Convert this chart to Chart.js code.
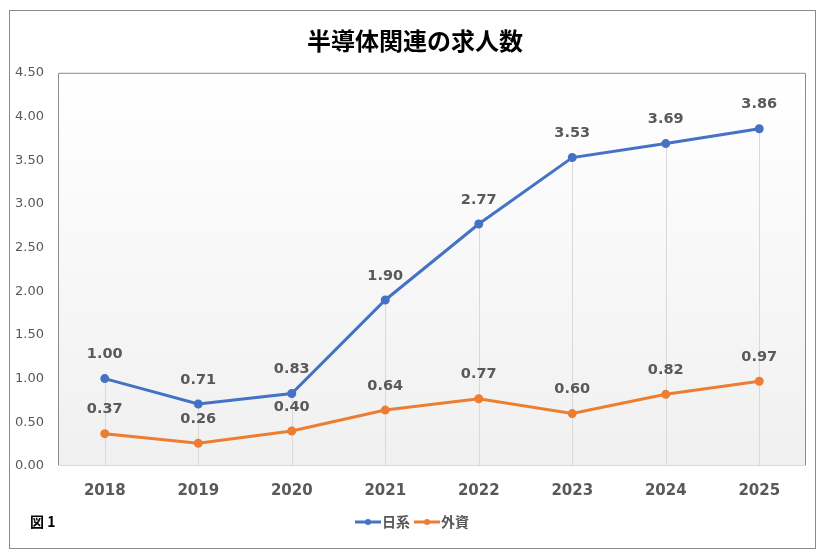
<!DOCTYPE html>
<html lang="ja">
<head>
<meta charset="UTF-8">
<title>半導体関連の求人数</title>
<script src="https://cdn.jsdelivr.net/npm/chart.js"></script>
<style>
    body { margin: 0; background: #fff; }
    #wrap { position: relative; width: 830px; height: 558px; }
</style>
</head>
<body>
<div id="wrap"><canvas id="chart" width="830" height="558"></canvas></div>
<script>
    const years = ['2018', '2019', '2020', '2021', '2022', '2023', '2024', '2025'];
    const nikkei = [1.00, 0.71, 0.83, 1.90, 2.77, 3.53, 3.69, 3.86];
    const gaishi = [0.37, 0.26, 0.40, 0.64, 0.77, 0.60, 0.82, 0.97];
    const yTicks = [0, 0.5, 1, 1.5, 2, 2.5, 3, 3.5, 4, 4.5];

    const BLUE = '#4472C4';
    const ORANGE = '#ED7D31';
    const GREY = '#595959';
    const NUM_FONT = '"DejaVu Sans", Verdana, sans-serif';
    const JP_FONT = '"Noto Sans CJK JP", sans-serif';

    // legend marker: short line with a dot in the middle
    function marker(color) {
        const c = document.createElement('canvas');
        c.width = 28; c.height = 10;
        const g = c.getContext('2d');
        g.strokeStyle = color; g.lineWidth = 3;
        g.beginPath(); g.moveTo(1, 5); g.lineTo(27, 5); g.stroke();
        g.fillStyle = color;
        g.beginPath(); g.arc(14, 5, 3, 0, Math.PI * 2); g.fill();
        return c;
    }

    const frame = {
        id: 'frame',
        beforeDraw(chart) {
            const ctx = chart.ctx;
            const a = chart.chartArea;
            ctx.save();
            ctx.strokeStyle = '#8a8a8a';
            ctx.lineWidth = 1;
            ctx.strokeRect(9.5, 10.5, 806, 538);
            const grad = ctx.createLinearGradient(0, a.top, 0, a.bottom);
            grad.addColorStop(0, '#ffffff');
            grad.addColorStop(1, '#f0f0f0');
            ctx.fillStyle = grad;
            ctx.fillRect(a.left, a.top, a.right - a.left, a.bottom - a.top);
            ctx.strokeStyle = '#8a8a8a';
            ctx.beginPath();
            ctx.moveTo(a.left + 0.5, a.bottom);
            ctx.lineTo(a.left + 0.5, a.top + 0.5);
            ctx.lineTo(a.right - 0.5, a.top + 0.5);
            ctx.lineTo(a.right - 0.5, a.bottom);
            ctx.stroke();
            ctx.strokeStyle = '#d9d9d9';
            ctx.beginPath();
            ctx.moveTo(a.left, a.bottom - 0.5);
            ctx.lineTo(a.right, a.bottom - 0.5);
            ctx.stroke();
            // 図 1
            ctx.fillStyle = '#000';
            ctx.font = 'bold 14px ' + JP_FONT;
            ctx.textBaseline = 'middle';
            ctx.fillText('図 1', 30, 522);
            ctx.restore();
        },
        beforeDatasetsDraw(chart) {
            // drop lines from the highest point down to the axis
            const ctx = chart.ctx;
            const a = chart.chartArea;
            const pts = chart.getDatasetMeta(0).data;
            const pts2 = chart.getDatasetMeta(1).data;
            ctx.save();
            ctx.strokeStyle = '#d9d9d9';
            ctx.lineWidth = 1;
            pts.forEach((p, i) => {
                const top = Math.min(p.y, pts2[i].y);
                const x = Math.round(p.x) + 0.5;
                ctx.beginPath();
                ctx.moveTo(x, top);
                ctx.lineTo(x, a.bottom);
                ctx.stroke();
            });
            ctx.restore();
        },
        afterDatasetsDraw(chart) {
            const ctx = chart.ctx;
            ctx.save();
            ctx.fillStyle = GREY;
            ctx.font = 'bold 14.5px ' + NUM_FONT;
            ctx.textAlign = 'center';
            ctx.textBaseline = 'middle';
            chart.data.datasets.forEach((ds, di) => {
                chart.getDatasetMeta(di).data.forEach((p, i) => {
                    ctx.fillText(ds.data[i].toFixed(2), p.x, p.y - 24);
                });
            });
            ctx.restore();
        }
    };

    new Chart(document.getElementById('chart'), {
        type: 'line',
        data: {
            labels: years,
            datasets: [
                { label: '日系', data: nikkei, borderColor: BLUE, backgroundColor: BLUE,
                  borderWidth: 3, pointRadius: 3, pointHoverRadius: 3, pointStyle: 'circle', tension: 0 },
                { label: '外資', data: gaishi, borderColor: ORANGE, backgroundColor: ORANGE,
                  borderWidth: 3, pointRadius: 3, pointHoverRadius: 3, pointStyle: 'circle', tension: 0 }
            ]
        },
        options: {
            responsive: false,
            animation: false,
            layout: { padding: { left: 0, right: 0, top: 0, bottom: 19 } },
            scales: {
                x: {
                    offset: true,
                    afterFit(s) { s.height = 39; },
                    grid: { display: false, drawTicks: false },
                    border: { display: false },
                    ticks: { color: GREY, padding: 16, font: { family: NUM_FONT, size: 15, weight: 'bold' } }
                },
                y: {
                    min: 0, max: 4.5,
                    afterFit(s) { s.width = 58; },
                    afterBuildTicks(s) { s.ticks = yTicks.map(v => ({ value: v })); },
                    grid: { display: false, drawTicks: false },
                    border: { display: false },
                    ticks: { color: GREY, padding: 14, font: { family: NUM_FONT, size: 13 },
                             callback: v => Number(v).toFixed(2) }
                },
                // empty right-hand axis keeps the plot 24px off the right edge
                yr: {
                    position: 'right',
                    afterFit(s) { s.width = 24; },
                    grid: { display: false, drawTicks: false },
                    border: { display: false },
                    ticks: { display: false }
                }
            },
            plugins: {
                title: {
                    display: true, text: '半導体関連の求人数', color: '#000',
                    font: { family: JP_FONT, size: 24, weight: 'bold' },
                    padding: { top: 26, bottom: 18 }
                },
                legend: {
                    position: 'bottom',
                    labels: {
                        usePointStyle: true, color: GREY, padding: 10,
                        font: { family: JP_FONT, size: 14, weight: 'bold' },
                        generateLabels(chart) {
                            return chart.data.datasets.map((ds, i) => ({
                                text: ds.label, fillStyle: ds.borderColor, strokeStyle: ds.borderColor,
                                pointStyle: marker(ds.borderColor), datasetIndex: i, lineWidth: 0, fontColor: GREY
                            }));
                        }
                    }
                },
                tooltip: { enabled: false }
            }
        },
        plugins: [frame]
    });
</script>
</body>
</html>
